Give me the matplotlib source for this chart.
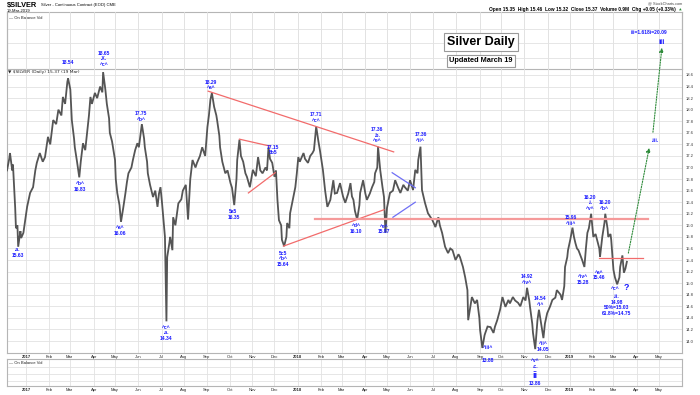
import pandas as pd
import matplotlib.pyplot as plt
import matplotlib.dates as mdates

plt.rcParams['font.family'] = ['Liberation Sans', 'DejaVu Sans']

# Silver daily closes (days counted from 3 Jan 2017)
days = [-27, -24, -23, -20, -19, -16, -15, -13, -12, -9, -8, -5, -3, 0, 4, 8, 11, 13, 17, 21,
        24, 28, 31, 35, 39, 42, 46, 48, 51, 54, 55, 58, 60, 63, 64, 67, 70, 72, 75, 78,
        81, 83, 85, 87, 91, 94, 98, 101, 102, 105, 107, 110, 111, 114, 118, 119, 121, 124, 126, 129,
        132, 134, 136, 140, 142, 145, 148, 150, 154, 157, 158, 161, 162, 165, 169, 172, 175, 177, 179, 181,
        183, 185, 187, 188, 191, 192, 195, 196, 199, 203, 207, 209, 213, 216, 219, 222, 226, 228, 232, 235,
        239, 242, 244, 246, 248, 251, 254, 255, 258, 259, 262, 266, 269, 273, 275, 278, 281, 282, 285, 287,
        290, 293, 295, 299, 303, 307, 310, 313, 316, 320, 322, 324, 326, 329, 332, 334, 336, 338, 341, 342,
        345, 348, 349, 352, 353, 356, 360, 362, 364, 366, 371, 373, 377, 380, 383, 385, 388, 391, 393, 396,
        397, 400, 403, 407, 411, 413, 416, 420, 424, 427, 431, 434, 436, 438, 440, 443, 446, 447, 451, 454,
        456, 460, 463, 466, 467, 470, 471, 474, 477, 479, 481, 483, 487, 491, 494, 498, 501, 505, 507, 511,
        514, 518, 521, 524, 525, 528, 530, 534, 538, 541, 544, 548, 552, 554, 557, 561, 565, 568, 571, 575,
        579, 581, 585, 588, 591, 592, 595, 597, 601, 604, 607, 608, 611, 614, 615, 618, 622, 626, 628, 631,
        635, 638, 642, 646, 648, 652, 655, 659, 662, 666, 669, 671, 674, 675, 678, 679, 682, 685, 687, 690,
        693, 695, 698, 702, 705, 709, 711, 716, 718, 721, 722, 725, 726, 729, 732, 734, 736, 738, 740, 742,
        745, 748, 750, 752, 754, 757, 760, 763, 765, 768, 769, 772, 775, 776, 779, 780, 783, 784, 787, 789,
        792, 795, 796, 799, 801, 803, 805]
prices = [16.95, 17.15, 17.25, 16.95, 17.05, 16.30, 15.95, 16.00, 15.63, 15.90, 15.78, 15.87, 16.05, 16.32, 16.56, 16.66, 16.95, 17.08, 17.25, 17.10,
          17.18, 17.53, 17.40, 17.82, 17.75, 18.00, 17.90, 18.22, 18.10, 18.48, 18.54, 18.35, 17.82, 17.50, 17.35, 17.10, 16.83, 17.10, 17.42, 17.30,
          17.65, 17.90, 18.22, 18.10, 18.29, 18.20, 18.40, 18.30, 18.65, 18.35, 18.10, 17.85, 17.60, 17.45, 17.13, 16.80, 16.56, 16.35, 16.06, 16.30,
          16.56, 16.75, 16.90, 17.00, 17.13, 17.30, 17.42, 17.35, 17.75, 17.50, 17.35, 17.10, 16.90, 16.70, 16.49, 16.60, 16.32, 16.55, 16.66, 16.40,
          16.09, 15.80, 14.34, 15.45, 15.70, 15.80, 15.57, 16.14, 16.00, 16.38, 16.45, 16.60, 16.70, 16.10, 16.80, 17.13, 17.00, 17.08, 17.20, 17.35,
          17.20, 17.70, 17.90, 18.17, 18.29, 18.05, 17.90, 17.82, 17.55, 17.35, 17.10, 16.90, 16.95, 16.73, 16.65, 16.35, 16.80, 17.13, 17.48, 17.20,
          17.10, 16.90, 16.84, 16.66, 16.96, 16.85, 17.18, 16.95, 16.90, 17.00, 16.95, 17.35, 17.15, 17.08, 16.84, 16.95, 16.44, 16.09, 16.00, 15.75,
          15.64, 15.80, 16.04, 15.95, 16.21, 16.40, 16.66, 16.90, 17.18, 17.10, 17.25, 17.15, 17.08, 17.20, 17.25, 17.30, 17.71, 17.45, 17.30, 17.05,
          16.96, 16.60, 16.32, 16.44, 16.78, 16.55, 16.56, 16.73, 16.50, 16.39, 16.55, 16.73, 16.50, 16.44, 16.25, 16.10, 16.35, 16.56, 16.78, 16.55,
          16.44, 16.55, 16.66, 16.75, 16.90, 17.00, 17.36, 16.95, 16.66, 16.49, 15.87, 16.30, 16.56, 16.60, 16.78, 16.65, 16.56, 16.70, 16.66, 16.60,
          16.78, 16.61, 16.96, 16.90, 17.13, 17.36, 16.61, 16.39, 16.21, 16.15, 16.09, 15.97, 16.14, 16.00, 15.87, 15.63, 15.52, 15.60, 15.57, 15.40,
          15.50, 15.45, 15.28, 15.10, 14.88, 14.36, 14.60, 14.76, 14.65, 14.71, 14.40, 14.19, 13.88, 14.10, 14.14, 14.25, 14.24, 14.14, 14.25, 14.36,
          14.55, 14.76, 14.59, 14.71, 14.65, 14.76, 14.70, 14.66, 14.60, 14.76, 14.70, 14.92, 14.70, 14.59, 14.30, 14.14, 13.86, 14.36, 14.54, 14.30,
          14.05, 14.30, 14.48, 14.60, 14.71, 14.75, 14.88, 14.80, 14.71, 14.95, 15.28, 15.45, 15.57, 15.75, 15.96, 15.80, 15.69, 15.60, 15.57, 15.50,
          15.40, 15.28, 15.60, 15.87, 15.95, 16.20, 15.80, 15.85, 15.75, 15.60, 15.46, 15.80, 16.05, 16.20, 15.95, 15.80, 15.85, 15.75, 15.23, 15.10,
          14.98, 15.10, 15.28, 15.48, 15.18, 15.25, 15.37]

# Elliott wave labels: day, price, text
wave_labels = [
    (-13, 15.53, '.a.\n15.63'), (55, 18.81, '18.54'), (103, 18.88, '18.65\n.X.\n^c^'),
    (71, 16.67, '^b^\n16.83'), (153, 17.88, '17.75\n^b^'), (125, 15.91, '^a^\n16.06'),
    (187, 14.14, '^c^\n.a.\n14.34'), (247, 18.43, '18.29\n^a^'), (277, 16.19, '5a5\n16.35'),
    (330, 17.30, '17.15\n5b5'), (344, 15.42, '5c5\n^b^\n15.64'), (388, 17.86, '17.71\n^c^'),
    (442, 15.95, '^d^\n16.10'), (470, 17.56, '17.36\n.b.\n^e^'), (479, 15.94, '^e^\n15.87'),
    (528, 17.52, '17.36\n^ii^'), (618, 13.88, '^iii^'), (618, 13.67, '13.88'),
    (671, 15.06, '14.92\n^iv^'), (689, 14.68, '14.54\n^i^'), (693, 13.90, '^ii^\n14.05'),
    (682, 13.61, '^v^\n.c.'), (682, 13.27, '13.86'), (730, 16.08, '15.96\n^iii^'),
    (746, 15.06, '^iv^\n15.28'), (756, 16.39, '16.20\n.i.\n^v^'), (775, 16.34, '16.20\n^b^'),
    (768, 15.14, '^a^\n15.46'), (789, 14.90, '^c^'),
    (791, 14.62, '.ii.\n14.98\n50%=15.03\n61.8%=14.75'),
    (834, 19.34, 'iii=1.618i=20.09'), (843, 17.46, '.iii.'),
]
big_labels = [(682, 13.41, 'ii', 6.5), (852, 19.17, 'iii', 5.5), (804, 14.92, '?', 6.5)]

red_lines = [((243, 18.32), (492, 17.27)), ((285, 17.49), (326, 17.37)),
             ((297, 16.56), (333, 16.91)), ((344, 15.64), (479, 16.27)),
             ((767, 15.44), (826, 15.44))]
neckline = ((387, 16.11), (834, 16.11))
blue_lines = [((490, 16.91), (521, 16.65)), ((491, 16.14), (521, 16.40))]
green_arrows = [((807, 15.52), (835, 17.34)), ((840, 17.61), (852, 19.07))]

BASE = pd.Timestamp('2017-01-03')


def dnum(d):
    return mdates.date2num(BASE + pd.Timedelta(days=d))


dates = BASE + pd.to_timedelta(days, unit='D')
month_starts = pd.date_range('2017-01-01', '2019-05-01', freq='BMS')
month_labels = [str(m.year) if m.month == 1 else m.strftime('%b') for m in month_starts]

W, H = 700, 395
fig = plt.figure(figsize=(7, 3.95), dpi=100)


def px_axes(x0, y0, x1, y1):
    return fig.add_axes([x0 / W, 1 - y1 / H, (x1 - x0) / W, (y1 - y0) / H])


grid_kw = dict(color='#e2e2e2', lw=0.6)
spine_col = '#b5b5b5'

ax_top = px_axes(7, 12, 682, 69)
ax_bot = px_axes(7, 359, 682, 386)
ax = px_axes(7, 12, 682, 353)
ax.set_zorder(5)

xlim = (dnum(-27), dnum(879))
for a in (ax_top, ax, ax_bot):
    a.set_xlim(xlim)
    a.set_xticks(month_starts)
    for s in a.spines.values():
        s.set_color(spine_col)
        s.set_linewidth(0.8)

# indicator panels
for a in (ax_top, ax_bot):
    a.set_ylim(0, 1)
    a.set_yticks([0.2, 0.45, 0.7])
    a.grid(True, **grid_kw)
    a.tick_params(length=0, labelleft=False, labelright=False)
    a.text(0.003, 0.93, '— On Balance Vol', transform=a.transAxes, fontsize=3,
           va='top', color='#222222')
ax_top.tick_params(labelbottom=False)
ax_bot.set_xticklabels(month_labels)
ax_bot.tick_params(axis='x', labelsize=3, pad=1.5, colors='#222222')

# price panel
ax.patch.set_alpha(0)
ax.set_ylim(13.7925, 19.689)
ax.set_yticks([round(14.0 + 0.2 * i, 1) for i in range(24)])
ax.yaxis.set_major_formatter(plt.FormatStrFormatter('%.1f'))
ax.yaxis.tick_right()
ax.tick_params(axis='y', length=0, pad=3, labelsize=3, colors='#333333')
ax.set_xticklabels(month_labels)
ax.tick_params(axis='x', length=0, labelsize=3, pad=1.5, colors='#222222')
ax.grid(True, **grid_kw)
ax.spines['top'].set_visible(False)
for a in (ax, ax_bot):
    for lab in a.get_xticklabels():
        if lab.get_text().isdigit():
            lab.set_fontweight('bold')

ax.plot(dates, prices, color='#555555', lw=1.3, solid_joinstyle='miter', zorder=3)

for (d0, p0), (d1, p1) in red_lines:
    ax.plot([dnum(d0), dnum(d1)], [p0, p1], color='#f26b6b', lw=0.9, zorder=4)
(d0, p0), (d1, p1) = neckline
ax.plot([dnum(d0), dnum(d1)], [p0, p1], color='#f59a9a', lw=1.6, zorder=4)
for (d0, p0), (d1, p1) in blue_lines:
    ax.plot([dnum(d0), dnum(d1)], [p0, p1], color='#6f6ff5', lw=0.9, zorder=4)
for (d0, p0), (d1, p1) in green_arrows:
    ax.annotate('', xy=(dnum(d1), p1), xytext=(dnum(d0), p0),
                arrowprops=dict(arrowstyle='-|>', color='#2e8b3a', lw=0.8,
                                linestyle=(0, (1.2, 1.2)), mutation_scale=6,
                                shrinkA=0, shrinkB=0), zorder=5)

for d, p, t in wave_labels:
    ax.text(dnum(d), p, t, fontsize=3.6, fontweight='bold', color='#1a1aff',
            ha='center', va='center', linespacing=1.15, clip_on=False, zorder=6)
for d, p, t, fs in big_labels:
    ax.text(dnum(d), p, t, fontsize=fs, fontweight='bold', color='#1a1aff',
            ha='center', va='center', clip_on=False, zorder=6)

# price legend just under the top indicator panel
ax.text(0.0015, 1 - 60 / 341, '\u25bc $SILVER (Daily) 15.37 (19 Mar)', transform=ax.transAxes,
        fontsize=3.2, va='center', ha='left', color='#222222', family='DejaVu Sans')

# title boxes
box = dict(boxstyle='square,pad=0.25', fc='white', ec='#9a9a9a', lw=0.8)
fig.text(481 / W, 1 - 42 / H, 'Silver Daily', fontsize=9, fontweight='bold',
         ha='center', va='center', bbox=box, zorder=10)
fig.text(481 / W, 1 - 61 / H, 'Updated March 19', fontsize=5.3, fontweight='bold',
         ha='center', va='center', bbox=dict(box, boxstyle='square,pad=0.35'), zorder=10)

# header
fig.text(7 / W, 1 - 5 / H, '$SILVER', fontsize=5.3, fontweight='bold', va='center')
fig.text(41 / W, 1 - 5 / H, 'Silver - Continuous Contract (EOD) CME', fontsize=3,
         va='center')
fig.text(7 / W, 1 - 10.5 / H, '19-Mar-2019', fontsize=3, va='center')
fig.text(682 / W, 1 - 3 / H, '@ StockCharts.com', fontsize=2.8, ha='right',
         va='center', color='#444444')
fig.text(676 / W, 1 - 10 / H,
         'Open 15.35  High 15.46  Low 15.32  Close 15.37  Volume 0.9M  Chg +0.05 (+0.33%)',
         fontsize=3.4, fontweight='bold', ha='right', va='center')
fig.text(680 / W, 1 - 10 / H, '\u25b2', fontsize=2.5, color='#2e8b3a', ha='center',
         va='center', family='DejaVu Sans')

fig.savefig('out.png', dpi=100)
